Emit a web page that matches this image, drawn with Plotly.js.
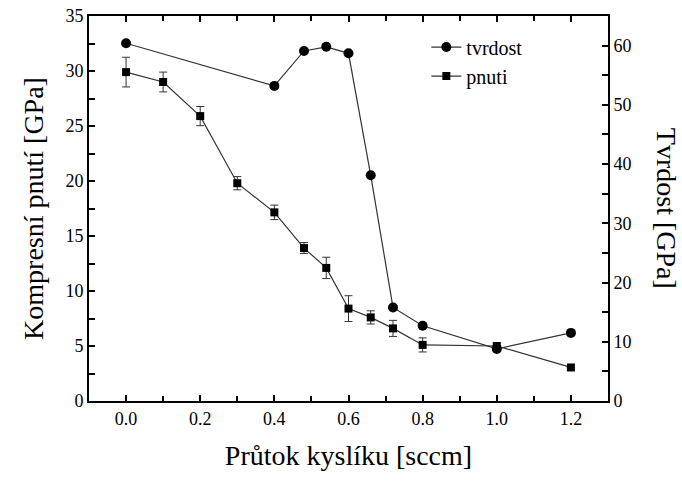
<!DOCTYPE html>
<html>
<head>
<meta charset="utf-8">
<script src="https://cdn.plot.ly/plotly-3.0.1.min.js"></script>
</head>
<body style="margin:0;background:#fff">
<div id="chart" style="width:682px;height:482px"></div>
<script>
// Data
const tvrdostX = [0.0, 0.4, 0.48, 0.54, 0.6, 0.66, 0.72, 0.8, 1.0, 1.2];
const tvrdostY = [60.4, 53.2, 59.1, 59.8, 58.7, 38.1, 15.8, 12.7, 8.8, 11.5];

const pnutiX = [0.0, 0.1, 0.2, 0.3, 0.4, 0.48, 0.54, 0.6, 0.66, 0.72, 0.8, 1.0, 1.2];
const pnutiY = [29.9, 29.0, 25.9, 19.8, 17.15, 13.9, 12.1, 8.4, 7.6, 6.6, 5.1, 5.0, 3.05];
const pnutiErr = [1.35, 0.9, 0.87, 0.6, 0.66, 0.5, 0.97, 1.17, 0.6, 0.73, 0.64, 0, 0];

const xTitle = "Průtok kyslíku [sccm]";
const yTitle = "Kompresní pnutí [GPa]";
const y2Title = "Tvrdost [GPa]";

const serif = "Liberation Serif";

const traces = [
  {
    x: tvrdostX, y: tvrdostY, yaxis: 'y2', name: 'tvrdost',
    mode: 'lines+markers',
    line: {color: '#333333', width: 1.2},
    marker: {symbol: 'circle', size: 10, color: '#000000'}
  },
  {
    x: pnutiX, y: pnutiY, yaxis: 'y', name: 'pnuti',
    mode: 'lines+markers',
    line: {color: '#333333', width: 1.2},
    marker: {symbol: 'square', size: 8, color: '#000000'},
    error_y: {type: 'data', array: pnutiErr, visible: true, color: '#333333', thickness: 1, width: 4}
  }
];

const layout = {
  width: 682, height: 482,
  margin: {l: 89, r: 74, t: 16, b: 81},
  paper_bgcolor: '#ffffff', plot_bgcolor: '#ffffff',
  showlegend: true,
  legend: {x: 0.65, y: 0.97, xanchor: 'left', yanchor: 'top', bgcolor: 'rgba(0,0,0,0)',
           font: {family: serif, size: 20, color: '#000'}, tracegroupgap: 0, itemwidth: 30},
  xaxis: {
    range: [-0.1, 1.3], tick0: 0, dtick: 0.2, tickformat: '.1f',
    ticks: 'inside', ticklen: 6, tickwidth: 2, tickcolor: '#000',
    minor: {dtick: 0.1, ticks: 'inside', ticklen: 5, tickwidth: 2, tickcolor: '#000'},
    showline: true, linecolor: '#000', linewidth: 2, mirror: 'ticks',
    showgrid: false, zeroline: false,
    tickfont: {family: serif, size: 18, color: '#000'},
    title: {text: xTitle, font: {family: serif, size: 28, color: '#000'}, standoff: 18}
  },
  yaxis: {
    range: [0, 35], tick0: 0, dtick: 5,
    ticks: 'inside', ticklen: 6, tickwidth: 2, tickcolor: '#000',
    minor: {dtick: 2.5, ticks: 'inside', ticklen: 6, tickwidth: 2, tickcolor: '#000'},
    showline: true, linecolor: '#000', linewidth: 2,
    showgrid: false, zeroline: false,
    tickfont: {family: serif, size: 18, color: '#000'},
    title: {text: yTitle, font: {family: serif, size: 28, color: '#000'}, standoff: 14}
  },
  yaxis2: {
    range: [0, 65], tick0: 0, dtick: 10, overlaying: 'y', side: 'right',
    ticks: 'inside', ticklen: 6, tickwidth: 2, tickcolor: '#000',
    minor: {dtick: 5, ticks: 'inside', ticklen: 6, tickwidth: 2, tickcolor: '#000'},
    showline: true, linecolor: '#000', linewidth: 2,
    showgrid: false, zeroline: false,
    tickfont: {family: serif, size: 18, color: '#000'}
  },
  annotations: [{
    text: y2Title, xref: 'paper', yref: 'paper', x: 1.113, y: 0.5,
    xanchor: 'center', yanchor: 'middle', textangle: 90, showarrow: false,
    font: {family: serif, size: 28, color: '#000'}
  }]
};

Plotly.newPlot('chart', traces, layout, {displayModeBar: false});
</script>
</body>
</html>
